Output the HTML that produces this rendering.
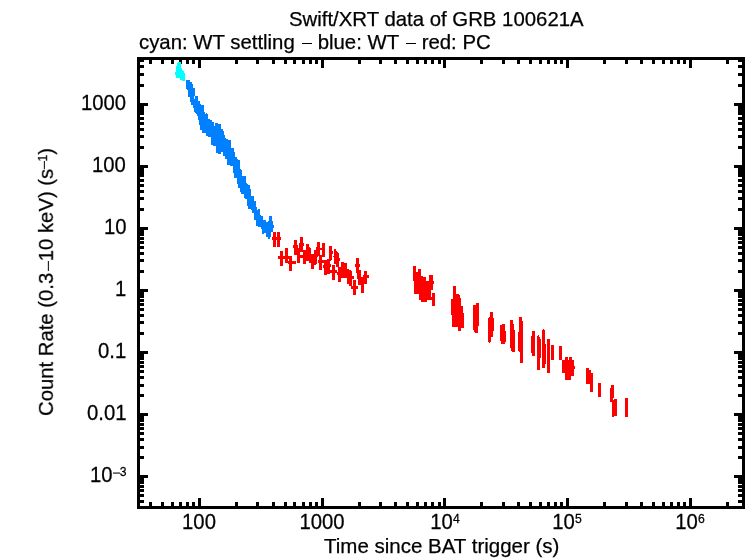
<!DOCTYPE html>
<html><head><meta charset="utf-8"><title>Swift/XRT data of GRB 100621A</title>
<style>
html,body{margin:0;padding:0;background:#fff;}
body{width:746px;height:558px;overflow:hidden;position:relative;font-family:"Liberation Sans",sans-serif;color:#000;}
svg{position:absolute;left:0;top:0;shape-rendering:crispEdges;}
.t{position:absolute;white-space:nowrap;line-height:1;font-size:20.3px;will-change:transform;-webkit-text-stroke:0.25px #000;transform-origin:50% 84.65%;}
.k{transform:scaleY(1.05);}
.d{display:inline-block;width:9.75px;height:1.15px;background:#000;margin-left:1.85px;vertical-align:4.15px;}
.m{display:inline-block;width:7.75px;height:1.1px;background:#000;margin-right:-0.5px;vertical-align:1.75px;}
.t sup{font-size:12.2px;line-height:0;position:relative;vertical-align:baseline;top:-6.2px;}
</style></head><body>
<svg width="746" height="558" viewBox="0 0 746 558"><rect x="137" y="57" width="608" height="3" fill="#000"/><rect x="137" y="506" width="608" height="3" fill="#000"/><rect x="137" y="57" width="3" height="452" fill="#000"/><rect x="742" y="57" width="3" height="452" fill="#000"/><rect x="149" y="57" width="3" height="7" fill="#000"/><rect x="149" y="502" width="3" height="7" fill="#000"/><rect x="161" y="57" width="3" height="7" fill="#000"/><rect x="161" y="502" width="3" height="7" fill="#000"/><rect x="171" y="57" width="3" height="7" fill="#000"/><rect x="171" y="502" width="3" height="7" fill="#000"/><rect x="179" y="57" width="3" height="7" fill="#000"/><rect x="179" y="502" width="3" height="7" fill="#000"/><rect x="186" y="57" width="3" height="7" fill="#000"/><rect x="186" y="502" width="3" height="7" fill="#000"/><rect x="192" y="57" width="3" height="7" fill="#000"/><rect x="192" y="502" width="3" height="7" fill="#000"/><rect x="198" y="57" width="3" height="11" fill="#000"/><rect x="198" y="498" width="3" height="11" fill="#000"/><rect x="235" y="57" width="3" height="7" fill="#000"/><rect x="235" y="502" width="3" height="7" fill="#000"/><rect x="256" y="57" width="3" height="7" fill="#000"/><rect x="256" y="502" width="3" height="7" fill="#000"/><rect x="272" y="57" width="3" height="7" fill="#000"/><rect x="272" y="502" width="3" height="7" fill="#000"/><rect x="284" y="57" width="3" height="7" fill="#000"/><rect x="284" y="502" width="3" height="7" fill="#000"/><rect x="293" y="57" width="3" height="7" fill="#000"/><rect x="293" y="502" width="3" height="7" fill="#000"/><rect x="302" y="57" width="3" height="7" fill="#000"/><rect x="302" y="502" width="3" height="7" fill="#000"/><rect x="309" y="57" width="3" height="7" fill="#000"/><rect x="309" y="502" width="3" height="7" fill="#000"/><rect x="315" y="57" width="3" height="7" fill="#000"/><rect x="315" y="502" width="3" height="7" fill="#000"/><rect x="321" y="57" width="3" height="11" fill="#000"/><rect x="321" y="498" width="3" height="11" fill="#000"/><rect x="358" y="57" width="3" height="7" fill="#000"/><rect x="358" y="502" width="3" height="7" fill="#000"/><rect x="379" y="57" width="3" height="7" fill="#000"/><rect x="379" y="502" width="3" height="7" fill="#000"/><rect x="394" y="57" width="3" height="7" fill="#000"/><rect x="394" y="502" width="3" height="7" fill="#000"/><rect x="406" y="57" width="3" height="7" fill="#000"/><rect x="406" y="502" width="3" height="7" fill="#000"/><rect x="416" y="57" width="3" height="7" fill="#000"/><rect x="416" y="502" width="3" height="7" fill="#000"/><rect x="424" y="57" width="3" height="7" fill="#000"/><rect x="424" y="502" width="3" height="7" fill="#000"/><rect x="431" y="57" width="3" height="7" fill="#000"/><rect x="431" y="502" width="3" height="7" fill="#000"/><rect x="438" y="57" width="3" height="7" fill="#000"/><rect x="438" y="502" width="3" height="7" fill="#000"/><rect x="443" y="57" width="3" height="11" fill="#000"/><rect x="443" y="498" width="3" height="11" fill="#000"/><rect x="480" y="57" width="3" height="7" fill="#000"/><rect x="480" y="502" width="3" height="7" fill="#000"/><rect x="502" y="57" width="3" height="7" fill="#000"/><rect x="502" y="502" width="3" height="7" fill="#000"/><rect x="517" y="57" width="3" height="7" fill="#000"/><rect x="517" y="502" width="3" height="7" fill="#000"/><rect x="529" y="57" width="3" height="7" fill="#000"/><rect x="529" y="502" width="3" height="7" fill="#000"/><rect x="539" y="57" width="3" height="7" fill="#000"/><rect x="539" y="502" width="3" height="7" fill="#000"/><rect x="547" y="57" width="3" height="7" fill="#000"/><rect x="547" y="502" width="3" height="7" fill="#000"/><rect x="554" y="57" width="3" height="7" fill="#000"/><rect x="554" y="502" width="3" height="7" fill="#000"/><rect x="560" y="57" width="3" height="7" fill="#000"/><rect x="560" y="502" width="3" height="7" fill="#000"/><rect x="566" y="57" width="3" height="11" fill="#000"/><rect x="566" y="498" width="3" height="11" fill="#000"/><rect x="603" y="57" width="3" height="7" fill="#000"/><rect x="603" y="502" width="3" height="7" fill="#000"/><rect x="625" y="57" width="3" height="7" fill="#000"/><rect x="625" y="502" width="3" height="7" fill="#000"/><rect x="640" y="57" width="3" height="7" fill="#000"/><rect x="640" y="502" width="3" height="7" fill="#000"/><rect x="652" y="57" width="3" height="7" fill="#000"/><rect x="652" y="502" width="3" height="7" fill="#000"/><rect x="662" y="57" width="3" height="7" fill="#000"/><rect x="662" y="502" width="3" height="7" fill="#000"/><rect x="670" y="57" width="3" height="7" fill="#000"/><rect x="670" y="502" width="3" height="7" fill="#000"/><rect x="677" y="57" width="3" height="7" fill="#000"/><rect x="677" y="502" width="3" height="7" fill="#000"/><rect x="683" y="57" width="3" height="7" fill="#000"/><rect x="683" y="502" width="3" height="7" fill="#000"/><rect x="689" y="57" width="3" height="11" fill="#000"/><rect x="689" y="498" width="3" height="11" fill="#000"/><rect x="726" y="57" width="3" height="7" fill="#000"/><rect x="726" y="502" width="3" height="7" fill="#000"/><rect x="137" y="500" width="7" height="3" fill="#000"/><rect x="738" y="500" width="7" height="3" fill="#000"/><rect x="137" y="494" width="7" height="3" fill="#000"/><rect x="738" y="494" width="7" height="3" fill="#000"/><rect x="137" y="489" width="7" height="3" fill="#000"/><rect x="738" y="489" width="7" height="3" fill="#000"/><rect x="137" y="485" width="7" height="3" fill="#000"/><rect x="738" y="485" width="7" height="3" fill="#000"/><rect x="137" y="481" width="7" height="3" fill="#000"/><rect x="738" y="481" width="7" height="3" fill="#000"/><rect x="137" y="478" width="7" height="3" fill="#000"/><rect x="738" y="478" width="7" height="3" fill="#000"/><rect x="137" y="475" width="11" height="3" fill="#000"/><rect x="734" y="475" width="11" height="3" fill="#000"/><rect x="137" y="456" width="7" height="3" fill="#000"/><rect x="738" y="456" width="7" height="3" fill="#000"/><rect x="137" y="446" width="7" height="3" fill="#000"/><rect x="738" y="446" width="7" height="3" fill="#000"/><rect x="137" y="438" width="7" height="3" fill="#000"/><rect x="738" y="438" width="7" height="3" fill="#000"/><rect x="137" y="432" width="7" height="3" fill="#000"/><rect x="738" y="432" width="7" height="3" fill="#000"/><rect x="137" y="427" width="7" height="3" fill="#000"/><rect x="738" y="427" width="7" height="3" fill="#000"/><rect x="137" y="423" width="7" height="3" fill="#000"/><rect x="738" y="423" width="7" height="3" fill="#000"/><rect x="137" y="419" width="7" height="3" fill="#000"/><rect x="738" y="419" width="7" height="3" fill="#000"/><rect x="137" y="416" width="7" height="3" fill="#000"/><rect x="738" y="416" width="7" height="3" fill="#000"/><rect x="137" y="413" width="11" height="3" fill="#000"/><rect x="734" y="413" width="11" height="3" fill="#000"/><rect x="137" y="394" width="7" height="3" fill="#000"/><rect x="738" y="394" width="7" height="3" fill="#000"/><rect x="137" y="384" width="7" height="3" fill="#000"/><rect x="738" y="384" width="7" height="3" fill="#000"/><rect x="137" y="376" width="7" height="3" fill="#000"/><rect x="738" y="376" width="7" height="3" fill="#000"/><rect x="137" y="370" width="7" height="3" fill="#000"/><rect x="738" y="370" width="7" height="3" fill="#000"/><rect x="137" y="365" width="7" height="3" fill="#000"/><rect x="738" y="365" width="7" height="3" fill="#000"/><rect x="137" y="361" width="7" height="3" fill="#000"/><rect x="738" y="361" width="7" height="3" fill="#000"/><rect x="137" y="357" width="7" height="3" fill="#000"/><rect x="738" y="357" width="7" height="3" fill="#000"/><rect x="137" y="354" width="7" height="3" fill="#000"/><rect x="738" y="354" width="7" height="3" fill="#000"/><rect x="137" y="351" width="11" height="3" fill="#000"/><rect x="734" y="351" width="11" height="3" fill="#000"/><rect x="137" y="332" width="7" height="3" fill="#000"/><rect x="738" y="332" width="7" height="3" fill="#000"/><rect x="137" y="321" width="7" height="3" fill="#000"/><rect x="738" y="321" width="7" height="3" fill="#000"/><rect x="137" y="314" width="7" height="3" fill="#000"/><rect x="738" y="314" width="7" height="3" fill="#000"/><rect x="137" y="308" width="7" height="3" fill="#000"/><rect x="738" y="308" width="7" height="3" fill="#000"/><rect x="137" y="303" width="7" height="3" fill="#000"/><rect x="738" y="303" width="7" height="3" fill="#000"/><rect x="137" y="299" width="7" height="3" fill="#000"/><rect x="738" y="299" width="7" height="3" fill="#000"/><rect x="137" y="295" width="7" height="3" fill="#000"/><rect x="738" y="295" width="7" height="3" fill="#000"/><rect x="137" y="292" width="7" height="3" fill="#000"/><rect x="738" y="292" width="7" height="3" fill="#000"/><rect x="137" y="289" width="11" height="3" fill="#000"/><rect x="734" y="289" width="11" height="3" fill="#000"/><rect x="137" y="270" width="7" height="3" fill="#000"/><rect x="738" y="270" width="7" height="3" fill="#000"/><rect x="137" y="259" width="7" height="3" fill="#000"/><rect x="738" y="259" width="7" height="3" fill="#000"/><rect x="137" y="252" width="7" height="3" fill="#000"/><rect x="738" y="252" width="7" height="3" fill="#000"/><rect x="137" y="246" width="7" height="3" fill="#000"/><rect x="738" y="246" width="7" height="3" fill="#000"/><rect x="137" y="241" width="7" height="3" fill="#000"/><rect x="738" y="241" width="7" height="3" fill="#000"/><rect x="137" y="237" width="7" height="3" fill="#000"/><rect x="738" y="237" width="7" height="3" fill="#000"/><rect x="137" y="233" width="7" height="3" fill="#000"/><rect x="738" y="233" width="7" height="3" fill="#000"/><rect x="137" y="230" width="7" height="3" fill="#000"/><rect x="738" y="230" width="7" height="3" fill="#000"/><rect x="137" y="227" width="11" height="3" fill="#000"/><rect x="734" y="227" width="11" height="3" fill="#000"/><rect x="137" y="208" width="7" height="3" fill="#000"/><rect x="738" y="208" width="7" height="3" fill="#000"/><rect x="137" y="197" width="7" height="3" fill="#000"/><rect x="738" y="197" width="7" height="3" fill="#000"/><rect x="137" y="190" width="7" height="3" fill="#000"/><rect x="738" y="190" width="7" height="3" fill="#000"/><rect x="137" y="184" width="7" height="3" fill="#000"/><rect x="738" y="184" width="7" height="3" fill="#000"/><rect x="137" y="179" width="7" height="3" fill="#000"/><rect x="738" y="179" width="7" height="3" fill="#000"/><rect x="137" y="174" width="7" height="3" fill="#000"/><rect x="738" y="174" width="7" height="3" fill="#000"/><rect x="137" y="171" width="7" height="3" fill="#000"/><rect x="738" y="171" width="7" height="3" fill="#000"/><rect x="137" y="168" width="7" height="3" fill="#000"/><rect x="738" y="168" width="7" height="3" fill="#000"/><rect x="137" y="165" width="11" height="3" fill="#000"/><rect x="734" y="165" width="11" height="3" fill="#000"/><rect x="137" y="146" width="7" height="3" fill="#000"/><rect x="738" y="146" width="7" height="3" fill="#000"/><rect x="137" y="135" width="7" height="3" fill="#000"/><rect x="738" y="135" width="7" height="3" fill="#000"/><rect x="137" y="128" width="7" height="3" fill="#000"/><rect x="738" y="128" width="7" height="3" fill="#000"/><rect x="137" y="122" width="7" height="3" fill="#000"/><rect x="738" y="122" width="7" height="3" fill="#000"/><rect x="137" y="117" width="7" height="3" fill="#000"/><rect x="738" y="117" width="7" height="3" fill="#000"/><rect x="137" y="112" width="7" height="3" fill="#000"/><rect x="738" y="112" width="7" height="3" fill="#000"/><rect x="137" y="109" width="7" height="3" fill="#000"/><rect x="738" y="109" width="7" height="3" fill="#000"/><rect x="137" y="106" width="7" height="3" fill="#000"/><rect x="738" y="106" width="7" height="3" fill="#000"/><rect x="137" y="103" width="11" height="3" fill="#000"/><rect x="734" y="103" width="11" height="3" fill="#000"/><rect x="137" y="84" width="7" height="3" fill="#000"/><rect x="738" y="84" width="7" height="3" fill="#000"/><rect x="137" y="73" width="7" height="3" fill="#000"/><rect x="738" y="73" width="7" height="3" fill="#000"/><rect x="137" y="65" width="7" height="3" fill="#000"/><rect x="738" y="65" width="7" height="3" fill="#000"/><rect x="137" y="59" width="7" height="3" fill="#000"/><rect x="738" y="59" width="7" height="3" fill="#000"/><rect x="175" y="72" width="1" height="3" fill="#00ffff"/><rect x="176" y="66" width="1" height="12" fill="#00ffff"/><rect x="177" y="63" width="1" height="15" fill="#00ffff"/><rect x="178" y="62" width="2" height="16" fill="#00ffff"/><rect x="180" y="62" width="1" height="18" fill="#00ffff"/><rect x="181" y="68" width="1" height="12" fill="#00ffff"/><rect x="182" y="70" width="1" height="11" fill="#00ffff"/><rect x="183" y="71" width="1" height="10" fill="#00ffff"/><rect x="184" y="73" width="1" height="8" fill="#00ffff"/><rect x="186" y="80" width="1" height="9" fill="#0080ff"/><rect x="187" y="80" width="1" height="10" fill="#0080ff"/><rect x="188" y="80" width="1" height="17" fill="#0080ff"/><rect x="189" y="80" width="1" height="17" fill="#0080ff"/><rect x="190" y="82" width="1" height="20" fill="#0080ff"/><rect x="191" y="82" width="1" height="23" fill="#0080ff"/><rect x="192" y="84" width="1" height="21" fill="#0080ff"/><rect x="193" y="88" width="1" height="20" fill="#0080ff"/><rect x="194" y="88" width="1" height="8" fill="#0080ff"/><rect x="194" y="99" width="1" height="13" fill="#0080ff"/><rect x="195" y="96" width="1" height="17" fill="#0080ff"/><rect x="196" y="96" width="1" height="18" fill="#0080ff"/><rect x="197" y="96" width="1" height="20" fill="#0080ff"/><rect x="198" y="101" width="1" height="19" fill="#0080ff"/><rect x="199" y="101" width="1" height="24" fill="#0080ff"/><rect x="200" y="104" width="1" height="26" fill="#0080ff"/><rect x="201" y="105" width="1" height="25" fill="#0080ff"/><rect x="202" y="105" width="1" height="28" fill="#0080ff"/><rect x="203" y="105" width="1" height="28" fill="#0080ff"/><rect x="204" y="112" width="1" height="21" fill="#0080ff"/><rect x="205" y="114" width="1" height="19" fill="#0080ff"/><rect x="206" y="113" width="1" height="23" fill="#0080ff"/><rect x="207" y="114" width="1" height="22" fill="#0080ff"/><rect x="208" y="119" width="1" height="18" fill="#0080ff"/><rect x="209" y="119" width="1" height="18" fill="#0080ff"/><rect x="210" y="120" width="1" height="17" fill="#0080ff"/><rect x="211" y="120" width="1" height="25" fill="#0080ff"/><rect x="212" y="122" width="1" height="23" fill="#0080ff"/><rect x="213" y="122" width="1" height="24" fill="#0080ff"/><rect x="214" y="126" width="1" height="20" fill="#0080ff"/><rect x="215" y="123" width="1" height="23" fill="#0080ff"/><rect x="216" y="123" width="1" height="30" fill="#0080ff"/><rect x="217" y="123" width="1" height="30" fill="#0080ff"/><rect x="218" y="124" width="1" height="30" fill="#0080ff"/><rect x="219" y="124" width="1" height="30" fill="#0080ff"/><rect x="220" y="124" width="1" height="30" fill="#0080ff"/><rect x="221" y="129" width="1" height="23" fill="#0080ff"/><rect x="222" y="129" width="1" height="23" fill="#0080ff"/><rect x="223" y="131" width="1" height="25" fill="#0080ff"/><rect x="224" y="135" width="1" height="21" fill="#0080ff"/><rect x="225" y="138" width="1" height="21" fill="#0080ff"/><rect x="226" y="139" width="1" height="20" fill="#0080ff"/><rect x="227" y="139" width="1" height="26" fill="#0080ff"/><rect x="228" y="140" width="1" height="25" fill="#0080ff"/><rect x="229" y="140" width="1" height="25" fill="#0080ff"/><rect x="230" y="140" width="1" height="26" fill="#0080ff"/><rect x="231" y="148" width="1" height="18" fill="#0080ff"/><rect x="232" y="148" width="1" height="18" fill="#0080ff"/><rect x="233" y="148" width="1" height="25" fill="#0080ff"/><rect x="234" y="152" width="1" height="26" fill="#0080ff"/><rect x="235" y="157" width="1" height="21" fill="#0080ff"/><rect x="236" y="157" width="1" height="21" fill="#0080ff"/><rect x="237" y="159" width="1" height="25" fill="#0080ff"/><rect x="238" y="160" width="1" height="28" fill="#0080ff"/><rect x="239" y="160" width="1" height="28" fill="#0080ff"/><rect x="240" y="169" width="1" height="23" fill="#0080ff"/><rect x="241" y="170" width="1" height="24" fill="#0080ff"/><rect x="242" y="176" width="1" height="18" fill="#0080ff"/><rect x="243" y="176" width="1" height="18" fill="#0080ff"/><rect x="244" y="176" width="1" height="22" fill="#0080ff"/><rect x="245" y="176" width="1" height="23" fill="#0080ff"/><rect x="246" y="183" width="1" height="16" fill="#0080ff"/><rect x="247" y="184" width="1" height="22" fill="#0080ff"/><rect x="248" y="185" width="1" height="24" fill="#0080ff"/><rect x="249" y="185" width="1" height="24" fill="#0080ff"/><rect x="250" y="189" width="1" height="20" fill="#0080ff"/><rect x="251" y="196" width="1" height="14" fill="#0080ff"/><rect x="252" y="196" width="1" height="17" fill="#0080ff"/><rect x="253" y="196" width="1" height="17" fill="#0080ff"/><rect x="254" y="201" width="1" height="19" fill="#0080ff"/><rect x="255" y="201" width="1" height="19" fill="#0080ff"/><rect x="256" y="207" width="1" height="19" fill="#0080ff"/><rect x="257" y="210" width="1" height="16" fill="#0080ff"/><rect x="258" y="209" width="1" height="18" fill="#0080ff"/><rect x="259" y="209" width="1" height="18" fill="#0080ff"/><rect x="260" y="215" width="1" height="12" fill="#0080ff"/><rect x="261" y="216" width="1" height="13" fill="#0080ff"/><rect x="262" y="216" width="1" height="18" fill="#0080ff"/><rect x="263" y="220" width="1" height="14" fill="#0080ff"/><rect x="264" y="220" width="1" height="13" fill="#0080ff"/><rect x="265" y="220" width="1" height="13" fill="#0080ff"/><rect x="266" y="222" width="1" height="15" fill="#0080ff"/><rect x="267" y="222" width="1" height="15" fill="#0080ff"/><rect x="268" y="221" width="1" height="18" fill="#0080ff"/><rect x="269" y="216" width="1" height="23" fill="#0080ff"/><rect x="270" y="216" width="1" height="21" fill="#0080ff"/><rect x="271" y="216" width="1" height="16" fill="#0080ff"/><rect x="272" y="221" width="1" height="11" fill="#0080ff"/><rect x="273" y="225" width="1" height="3" fill="#0080ff"/><rect x="273" y="232" width="3" height="15" fill="#ff0000"/><rect x="277" y="232" width="3" height="15" fill="#ff0000"/><rect x="272" y="237" width="9" height="3" fill="#ff0000"/><rect x="280" y="251" width="3" height="15" fill="#ff0000"/><rect x="278" y="256" width="12" height="3" fill="#ff0000"/><rect x="285" y="248" width="3" height="15" fill="#ff0000"/><rect x="289" y="256" width="3" height="15" fill="#ff0000"/><rect x="288" y="261" width="8" height="3" fill="#ff0000"/><rect x="293" y="245" width="1" height="3" fill="#ff0000"/><rect x="294" y="240" width="3" height="15" fill="#ff0000"/><rect x="297" y="245" width="1" height="18" fill="#ff0000"/><rect x="298" y="248" width="1" height="15" fill="#ff0000"/><rect x="299" y="243" width="1" height="20" fill="#ff0000"/><rect x="300" y="237" width="3" height="15" fill="#ff0000"/><rect x="300" y="255" width="3" height="3" fill="#ff0000"/><rect x="303" y="243" width="1" height="3" fill="#ff0000"/><rect x="303" y="250" width="1" height="14" fill="#ff0000"/><rect x="304" y="250" width="2" height="14" fill="#ff0000"/><rect x="306" y="244" width="3" height="17" fill="#ff0000"/><rect x="309" y="247" width="1" height="16" fill="#ff0000"/><rect x="310" y="248" width="1" height="15" fill="#ff0000"/><rect x="311" y="254" width="3" height="15" fill="#ff0000"/><rect x="314" y="250" width="2" height="15" fill="#ff0000"/><rect x="316" y="247" width="1" height="17" fill="#ff0000"/><rect x="317" y="242" width="1" height="15" fill="#ff0000"/><rect x="318" y="242" width="1" height="14" fill="#ff0000"/><rect x="318" y="260" width="1" height="3" fill="#ff0000"/><rect x="319" y="242" width="1" height="28" fill="#ff0000"/><rect x="320" y="248" width="2" height="2" fill="#ff0000"/><rect x="320" y="255" width="2" height="15" fill="#ff0000"/><rect x="322" y="243" width="3" height="14" fill="#ff0000"/><rect x="322" y="260" width="2" height="3" fill="#ff0000"/><rect x="323" y="265" width="1" height="3" fill="#ff0000"/><rect x="324" y="260" width="1" height="15" fill="#ff0000"/><rect x="325" y="260" width="2" height="15" fill="#ff0000"/><rect x="327" y="259" width="2" height="15" fill="#ff0000"/><rect x="329" y="246" width="1" height="28" fill="#ff0000"/><rect x="330" y="246" width="1" height="15" fill="#ff0000"/><rect x="330" y="264" width="1" height="3" fill="#ff0000"/><rect x="331" y="246" width="1" height="14" fill="#ff0000"/><rect x="332" y="251" width="1" height="3" fill="#ff0000"/><rect x="333" y="256" width="1" height="1" fill="#ff0000"/><rect x="330" y="270" width="7" height="3" fill="#ff0000"/><rect x="332" y="265" width="3" height="15" fill="#ff0000"/><rect x="334" y="249" width="2" height="15" fill="#ff0000"/><rect x="336" y="251" width="1" height="16" fill="#ff0000"/><rect x="337" y="252" width="1" height="15" fill="#ff0000"/><rect x="338" y="253" width="1" height="14" fill="#ff0000"/><rect x="339" y="258" width="1" height="3" fill="#ff0000"/><rect x="337" y="272" width="1" height="3" fill="#ff0000"/><rect x="338" y="267" width="3" height="15" fill="#ff0000"/><rect x="341" y="262" width="3" height="16" fill="#ff0000"/><rect x="344" y="263" width="3" height="15" fill="#ff0000"/><rect x="347" y="269" width="2" height="15" fill="#ff0000"/><rect x="349" y="270" width="2" height="16" fill="#ff0000"/><rect x="351" y="271" width="1" height="15" fill="#ff0000"/><rect x="352" y="276" width="2" height="3" fill="#ff0000"/><rect x="353" y="280" width="3" height="15" fill="#ff0000"/><rect x="351" y="286" width="7" height="3" fill="#ff0000"/><rect x="355" y="264" width="5" height="3" fill="#ff0000"/><rect x="356" y="258" width="3" height="15" fill="#ff0000"/><rect x="357" y="270" width="1" height="9" fill="#ff0000"/><rect x="358" y="270" width="3" height="15" fill="#ff0000"/><rect x="361" y="277" width="3" height="16" fill="#ff0000"/><rect x="364" y="271" width="3" height="13" fill="#ff0000"/><rect x="363" y="275" width="6" height="3" fill="#ff0000"/><rect x="413" y="266" width="1" height="15" fill="#ff0000"/><rect x="414" y="266" width="2" height="28" fill="#ff0000"/><rect x="416" y="272" width="2" height="22" fill="#ff0000"/><rect x="418" y="269" width="1" height="25" fill="#ff0000"/><rect x="419" y="269" width="2" height="31" fill="#ff0000"/><rect x="421" y="276" width="2" height="26" fill="#ff0000"/><rect x="423" y="277" width="3" height="25" fill="#ff0000"/><rect x="426" y="281" width="1" height="21" fill="#ff0000"/><rect x="427" y="281" width="2" height="19" fill="#ff0000"/><rect x="429" y="275" width="2" height="25" fill="#ff0000"/><rect x="431" y="275" width="1" height="15" fill="#ff0000"/><rect x="431" y="297" width="1" height="3" fill="#ff0000"/><rect x="432" y="275" width="1" height="15" fill="#ff0000"/><rect x="432" y="293" width="1" height="13" fill="#ff0000"/><rect x="433" y="281" width="1" height="3" fill="#ff0000"/><rect x="433" y="293" width="2" height="13" fill="#ff0000"/><rect x="451" y="299" width="1" height="16" fill="#ff0000"/><rect x="452" y="299" width="1" height="28" fill="#ff0000"/><rect x="453" y="286" width="3" height="41" fill="#ff0000"/><rect x="456" y="294" width="2" height="33" fill="#ff0000"/><rect x="458" y="294" width="1" height="37" fill="#ff0000"/><rect x="459" y="295" width="1" height="36" fill="#ff0000"/><rect x="460" y="298" width="1" height="33" fill="#ff0000"/><rect x="461" y="306" width="2" height="22" fill="#ff0000"/><rect x="463" y="313" width="1" height="15" fill="#ff0000"/><rect x="473" y="305" width="1" height="25" fill="#ff0000"/><rect x="474" y="305" width="1" height="27" fill="#ff0000"/><rect x="475" y="305" width="1" height="28" fill="#ff0000"/><rect x="476" y="303" width="2" height="30" fill="#ff0000"/><rect x="478" y="303" width="1" height="23" fill="#ff0000"/><rect x="488" y="318" width="1" height="24" fill="#ff0000"/><rect x="489" y="317" width="1" height="26" fill="#ff0000"/><rect x="490" y="312" width="1" height="30" fill="#ff0000"/><rect x="491" y="312" width="2" height="25" fill="#ff0000"/><rect x="493" y="318" width="1" height="13" fill="#ff0000"/><rect x="500" y="325" width="1" height="16" fill="#ff0000"/><rect x="501" y="325" width="1" height="19" fill="#ff0000"/><rect x="502" y="324" width="3" height="20" fill="#ff0000"/><rect x="505" y="331" width="1" height="11" fill="#ff0000"/><rect x="510" y="320" width="1" height="28" fill="#ff0000"/><rect x="511" y="320" width="1" height="31" fill="#ff0000"/><rect x="512" y="320" width="1" height="32" fill="#ff0000"/><rect x="513" y="324" width="1" height="28" fill="#ff0000"/><rect x="514" y="330" width="1" height="22" fill="#ff0000"/><rect x="518" y="332" width="1" height="19" fill="#ff0000"/><rect x="519" y="317" width="1" height="35" fill="#ff0000"/><rect x="520" y="317" width="2" height="46" fill="#ff0000"/><rect x="522" y="321" width="1" height="42" fill="#ff0000"/><rect x="531" y="336" width="1" height="17" fill="#ff0000"/><rect x="532" y="331" width="3" height="25" fill="#ff0000"/><rect x="537" y="336" width="2" height="34" fill="#ff0000"/><rect x="538" y="335" width="1" height="1" fill="#ff0000"/><rect x="543" y="329" width="1" height="1" fill="#ff0000"/><rect x="539" y="337" width="1" height="33" fill="#ff0000"/><rect x="540" y="339" width="1" height="19" fill="#ff0000"/><rect x="542" y="330" width="3" height="38" fill="#ff0000"/><rect x="545" y="344" width="1" height="20" fill="#ff0000"/><rect x="547" y="339" width="3" height="34" fill="#ff0000"/><rect x="551" y="345" width="3" height="15" fill="#ff0000"/><rect x="559" y="346" width="3" height="14" fill="#ff0000"/><rect x="562" y="360" width="3" height="13" fill="#ff0000"/><rect x="565" y="357" width="3" height="23" fill="#ff0000"/><rect x="568" y="360" width="1" height="20" fill="#ff0000"/><rect x="569" y="357" width="2" height="23" fill="#ff0000"/><rect x="571" y="357" width="1" height="19" fill="#ff0000"/><rect x="572" y="360" width="2" height="16" fill="#ff0000"/><rect x="574" y="366" width="1" height="3" fill="#ff0000"/><rect x="586" y="368" width="3" height="16" fill="#ff0000"/><rect x="589" y="370" width="1" height="14" fill="#ff0000"/><rect x="590" y="370" width="1" height="22" fill="#ff0000"/><rect x="591" y="373" width="2" height="19" fill="#ff0000"/><rect x="598" y="383" width="3" height="14" fill="#ff0000"/><rect x="610" y="388" width="1" height="14" fill="#ff0000"/><rect x="611" y="385" width="1" height="17" fill="#ff0000"/><rect x="612" y="385" width="1" height="32" fill="#ff0000"/><rect x="613" y="385" width="1" height="13" fill="#ff0000"/><rect x="613" y="400" width="1" height="17" fill="#ff0000"/><rect x="614" y="399" width="3" height="17" fill="#ff0000"/><rect x="625" y="398" width="3" height="19" fill="#ff0000"/></svg>
<div class="t" id="title" style="left:289px;top:9px;font-size:20.36px;">Swift/XRT data of GRB 100621A</div>
<div class="t" id="sub" style="left:138.6px;top:32px;font-size:20.37px;">cyan: WT settling <span class="d" style="vertical-align:4.8px"></span> blue: WT <span class="d" style="vertical-align:4.8px"></span> red: PC</div>
<div class="t" id="xl" style="left:324px;top:535.7px;font-size:20.5px;">Time since BAT trigger (s)</div>
<div class="t" id="yl" style="left:46.2px;top:282.4px;transform-origin:50% 50%;transform:translate(-50%,-50%) rotate(-90deg);">Count Rate (0.3<span class="d"></span>10 keV) (s<sup><span class="m"></span>1</sup>)</div>
<div class="t k" id="y1000" style="right:619.8px;top:92.8px;">1000</div>
<div class="t k" id="y100" style="right:619.8px;top:154.8px;">100</div>
<div class="t k" id="y10" style="right:619.8px;top:216.8px;">10</div>
<div class="t k" id="y1" style="right:619.8px;top:278.8px;">1</div>
<div class="t k" id="y01" style="right:619.8px;top:340.8px;">0.1</div>
<div class="t k" id="y001" style="right:619.8px;top:402.8px;">0.01</div>
<div class="t k" id="ym3" style="right:619.8px;top:464.8px;">10<sup><span class="m"></span>3</sup></div>
<div class="t" id="x100" style="left:199px;top:511.8px;transform:translateX(-50%) scaleY(1.05);">100</div>
<div class="t" id="x1000" style="left:322px;top:511.8px;transform:translateX(-50%) scaleY(1.05);">1000</div>
<div class="t" id="x4" style="left:444.5px;top:511.8px;transform:translateX(-50%) scaleY(1.05);">10<sup>4</sup></div>
<div class="t" id="x5" style="left:567px;top:511.8px;transform:translateX(-50%) scaleY(1.05);">10<sup>5</sup></div>
<div class="t" id="x6" style="left:690px;top:511.8px;transform:translateX(-50%) scaleY(1.05);">10<sup>6</sup></div>
</body></html>
